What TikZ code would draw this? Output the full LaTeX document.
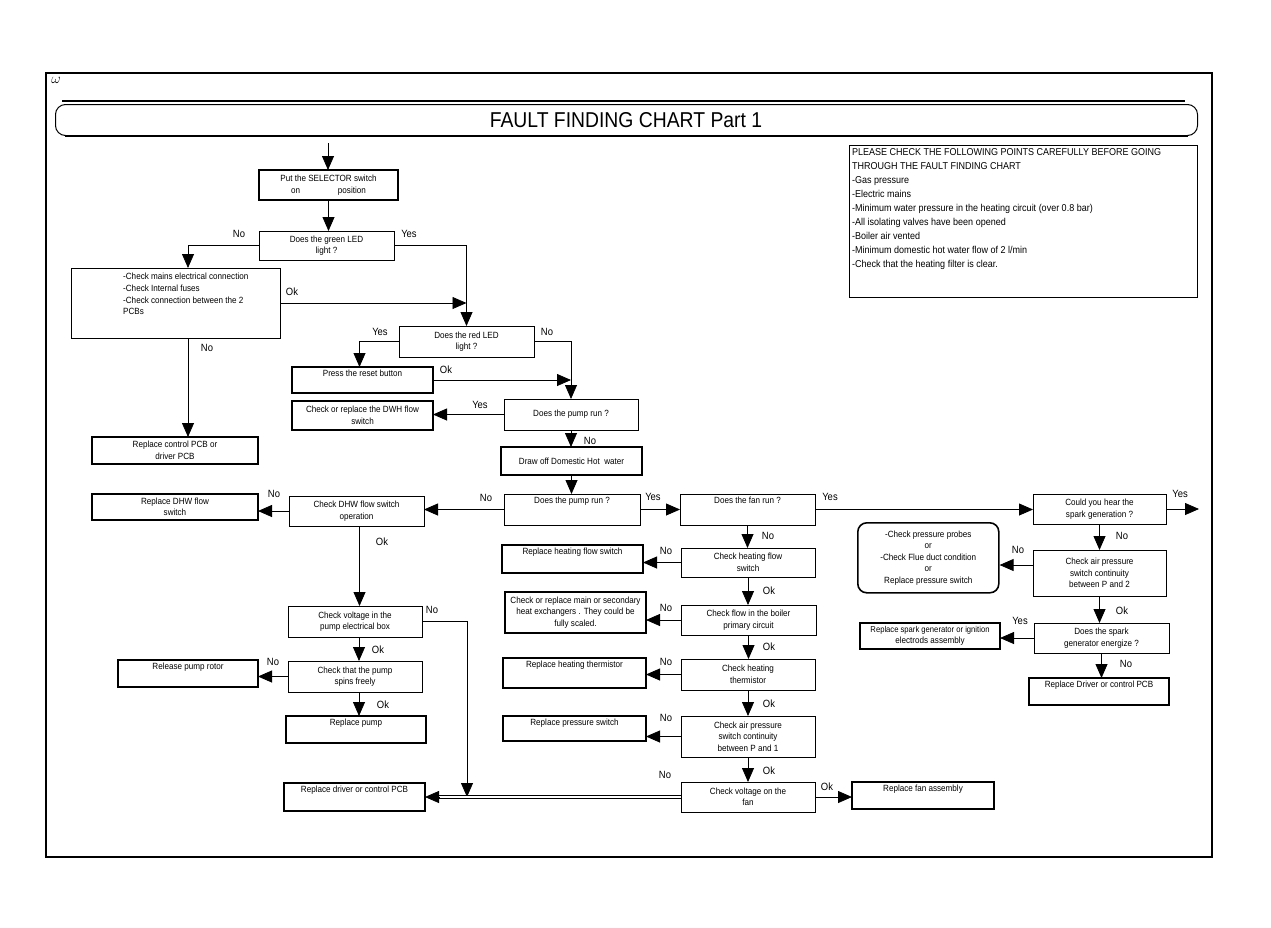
\documentclass[tikz,border=0pt]{standalone}
\usepackage{fontspec}
\setmainfont{Liberation Sans}[FakeStretch=0.9]
\usetikzlibrary{arrows.meta,calc}
\newcommand\mk[7]{\node[#2,minimum width={#5-#3},minimum height={#6-#4},anchor=north west] (#1) at (#3,#4) {#7};}
\newcommand\mkt[7]{\node[#2,minimum width={#5-#3},minimum height={#6-#4},anchor=north west] (#1) at (#3,#4) {};
  \node[btxt,anchor=north] (#1-t) at ([yshift=-3pt]#1.north) {#7};}
\newcounter{lb}
\newcommand\lbl[3]{\stepcounter{lb}\node[lab] (lab\arabic{lb}) at (#1,#2) {#3};}
\begin{document}
\begin{tikzpicture}[x=1pt,y=-1pt,
 btxt/.style={inner sep=0pt,align=center,font=\fontsize{9}{11.5}\selectfont},
 bx/.style={draw,line width=0.8pt,inner sep=1pt,outer sep=0pt,align=center,font=\fontsize{9}{11.5}\selectfont},
 tbx/.style={bx,line width=1.8pt},
 arr/.style={line width=0.8pt,-{Triangle[length=14pt,width=12pt]}},
 ln/.style={line width=0.8pt},
 lab/.style={font=\fontsize{10.5}{11}\selectfont,inner sep=0pt}]
\useasboundingbox (0,0) rectangle (1271,927);
\fill[white] (0,0) rectangle (1271,927);
% frame
\draw[line width=1.3pt] (46,73) rectangle (1212,857);
\node[inner sep=0pt,font=\fontsize{14}{14}\selectfont] (omega) at (56,80) {$\omega$};
\draw[line width=2pt] (62,101) -- (1185,101);
\node[draw,line width=1pt,rounded corners=10pt,minimum width=1142,minimum height=31,anchor=north west,inner sep=0pt] (title) at (55,104) {};
\draw[line width=2.2pt] ([xshift=10pt]title.south west) -- ([xshift=-10pt]title.south east);
\node[inner sep=0pt,font=\fontsize{21.5}{24}\selectfont] (titletext) at (626,120) {FAULT FINDING CHART Part 1};
% info box
\mk{info}{bx}{849}{145}{1197}{297}{}
\node[anchor=north west,inner sep=0pt,align=left,font=\fontsize{10}{14}\selectfont] (infotext) at (852,148.5) {PLEASE CHECK THE FOLLOWING POINTS CAREFULLY BEFORE GOING\\THROUGH THE FAULT FINDING CHART\\-Gas pressure\\-Electric mains\\-Minimum water pressure in the heating circuit (over 0.8 bar)\\-All isolating valves have been opened\\-Boiler air vented\\-Minimum domestic hot water flow of 2 l/min\\-Check that the heating filter is clear.};
% boxes
\mk{sel}{tbx}{259}{170}{398}{200}{Put the SELECTOR switch\\on\hspace{4.2em}position}
\mk{green}{bx}{259}{231}{394}{260}{Does the green LED\\light ?}
\mk{mains}{bx}{71}{268}{280}{338}{}
\node[anchor=north west,inner sep=0pt,align=left,font=\fontsize{9}{11.7}\selectfont] (mainstext) at (123,273) {-Check mains electrical connection\\-Check Internal fuses\\-Check connection between the 2\\PCBs};
\mk{rpcb}{tbx}{92}{437}{258}{464}{Replace control PCB or\\driver PCB}
\mk{red}{bx}{399}{326}{534}{357}{Does the red LED\\light ?}
\mkt{reset}{tbx}{292}{367}{433}{393}{Press the reset button}
\mk{dwh}{tbx}{292}{401}{433}{430}{Check or replace the DWH flow\\switch}
\mk{pump1}{bx}{504}{399}{638}{430}{Does the pump run ?}
\mk{drawoff}{tbx}{501}{447}{642}{475}{Draw off Domestic Hot\ \ water}
\mkt{pump2}{bx}{504}{494}{640}{525}{Does the pump run ?}
\mk{dhwchk}{bx}{289}{496}{424}{526}{Check DHW flow switch\\operation}
\mk{repdhw}{tbx}{92}{494}{258}{520}{Replace DHW flow\\switch}
\mk{volt}{bx}{288}{606}{422}{637}{Check voltage in the\\pump electrical box}
\mk{spin}{bx}{288}{661}{422}{692}{Check that the pump\\spins freely}
\mkt{rotor}{tbx}{118}{660}{258}{687}{Release pump rotor}
\mkt{rpump}{tbx}{286}{716}{426}{743}{Replace pump}
\mkt{rdrv}{tbx}{284}{783}{425}{811}{Replace driver or control PCB}
\mkt{fan}{bx}{680}{494}{815}{525}{Does the fan run ?}
\mk{hfs}{bx}{681}{548}{815}{577}{Check heating flow\\switch}
\mkt{rhfs}{tbx}{502}{545}{643}{573}{Replace heating flow switch}
\mk{flow}{bx}{681}{605}{816}{635}{Check flow in the boiler\\primary circuit}
\mk{hx}{tbx}{505}{592}{646}{633}{Check or replace main or secondary\\heat exchangers . They could be\\fully scaled.}
\mk{therm}{bx}{681}{659}{815}{690}{Check heating\\thermistor}
\mkt{rtherm}{tbx}{503}{658}{646}{688}{Replace heating thermistor}
\mk{ap1}{bx}{681}{716}{815}{757}{Check air pressure\\switch continuity\\between P and 1}
\mkt{rps}{tbx}{503}{716}{646}{741}{Replace pressure switch}
\mk{fanv}{bx}{681}{782}{815}{812}{Check voltage on the\\fan}
\mkt{rfan}{tbx}{852}{782}{994}{809}{Replace fan assembly}
\mk{spark}{bx}{1033}{494}{1166}{524}{Could you hear the\\spark generation ?}
\mk{ap2}{bx}{1033}{550}{1166}{596}{Check air pressure\\switch continuity\\between P and 2}
\node[draw,line width=1.6pt,rounded corners=9pt,minimum width=141,minimum height=70,anchor=north west,inner sep=1pt,align=center,font=\fontsize{9}{11.5}\selectfont] (probes) at (857,522) {-Check pressure probes\\or\\-Check Flue duct condition\\or\\Replace pressure switch};
\mk{energ}{bx}{1034}{623}{1169}{653}{Does the spark\\generator energize ?}
\mk{rspark}{tbx}{860}{623}{1000}{649}{\fontsize{8.5}{10.5}\selectfont Replace spark generator or ignition\\electrods assembly}
\mkt{rdrv2}{tbx}{1029}{678}{1169}{705}{Replace Driver or control PCB}
% coordinates
\coordinate (start) at (328,143);
\coordinate (j) at (467,797);
\coordinate (sparkout) at (1199,509);
% connectors
\draw[arr] (start) -- (start |- sel.north);
\draw[arr] (sel.south) -- (sel.south |- green.north);
\draw[arr] (green.west) -| ([xshift=117pt]mains.north west);
\draw[arr] (green.east) -| (red.north);
\draw[arr] (mains.east) -- (mains.east -| red.north);
\draw[arr] ([xshift=117pt]mains.south west) -- ([xshift=117pt]mains.south west |- rpcb.north);
\draw[arr] (red.west) -| ([xshift=-3pt]reset.north);
\draw[arr] (red.east) -| (pump1.north);
\draw[arr] (reset.east) -- (reset.east -| pump1.north);
\draw[arr] (pump1.west) -- (pump1.west -| dwh.east);
\draw[arr] (pump1.south) -- (pump1.south |- drawoff.north);
\draw[arr] (drawoff.south) -- (drawoff.south |- pump2.north);
\draw[arr] (pump2.west) -- (pump2.west -| dhwchk.east);
\draw[arr] (pump2.east) -- (pump2.east -| fan.west);
\draw[arr] (dhwchk.west) -- (dhwchk.west -| repdhw.east);
\draw[arr] ([xshift=3pt]dhwchk.south) -- ([xshift=3pt]dhwchk.south |- volt.north);
\draw[arr] (volt.east) -| (j);
\draw[arr] ([xshift=4pt]volt.south) -- ([xshift=4pt]volt.south |- spin.north);
\draw[arr] (spin.west) -- (spin.west -| rotor.east);
\draw[arr] ([xshift=4pt]spin.south) -- ([xshift=4pt]spin.south |- rpump.north);
\draw[arr] (fan.east) -- (fan.east -| spark.west);
\draw[arr] (fan.south) -- (fan.south |- hfs.north);
\draw[arr] (hfs.west) -- (hfs.west -| rhfs.east);
\draw[arr] (hfs.south) -- (hfs.south |- flow.north);
\draw[arr] (flow.west) -- (flow.west -| hx.east);
\draw[arr] (flow.south) -- (flow.south |- therm.north);
\draw[arr] (therm.west) -- (therm.west -| rtherm.east);
\draw[arr] (therm.south) -- (therm.south |- ap1.north);
\draw[arr] (ap1.west) -- (ap1.west -| rps.east);
\draw[arr] (ap1.south) -- (ap1.south |- fanv.north);
\draw[arr] (fanv.east) -- (fanv.east -| rfan.west);
\draw[line width=0.6pt,double distance=2pt] (fanv.west) -- ([xshift=12pt]rdrv.east);
\draw[arr] ([xshift=14pt]rdrv.east) -- (rdrv.east);
\draw[arr] (spark.east) -- (sparkout);
\draw[arr] (spark.south) -- (spark.south |- ap2.north);
\draw[arr] ([yshift=8pt]ap2.west) -- ([yshift=8pt]ap2.west -| probes.east);
\draw[arr] (ap2.south) -- (ap2.south |- energ.north);
\draw[arr] (energ.west) -- (energ.west -| rspark.east);
\draw[arr] (energ.south) -- (energ.south |- rdrv2.north);
% labels
\lbl{239}{234}{No}\lbl{409}{234}{Yes}\lbl{292}{292}{Ok}\lbl{207}{348}{No}
\lbl{380}{332}{Yes}\lbl{547}{332}{No}\lbl{446}{370}{Ok}\lbl{480}{405}{Yes}
\lbl{590}{441}{No}\lbl{486}{498}{No}\lbl{653}{497}{Yes}\lbl{274}{494}{No}
\lbl{382}{542}{Ok}\lbl{432}{610}{No}\lbl{378}{650}{Ok}\lbl{273}{662}{No}
\lbl{383}{705}{Ok}\lbl{830}{497}{Yes}\lbl{768}{536}{No}\lbl{666}{551}{No}
\lbl{769}{591}{Ok}\lbl{666}{608}{No}\lbl{769}{647}{Ok}\lbl{666}{662}{No}
\lbl{769}{704}{Ok}\lbl{666}{718}{No}\lbl{769}{771}{Ok}\lbl{665}{775}{No}
\lbl{827}{787}{Ok}\lbl{1180}{494}{Yes}\lbl{1122}{536}{No}\lbl{1018}{550}{No}
\lbl{1122}{611}{Ok}\lbl{1020}{621}{Yes}\lbl{1126}{664}{No}
\end{tikzpicture}
\end{document}
